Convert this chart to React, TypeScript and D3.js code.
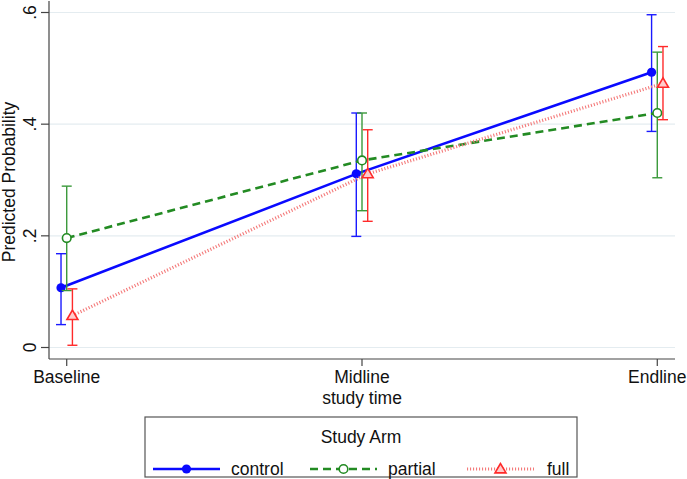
import React from 'react';
import * as d3 from 'd3';

// study time points
const times = ['Baseline', 'Midline', 'Endline'];

// predicted probabilities with 95% CI, per study arm
const controlEst = [0.107, 0.311, 0.493];
const controlLo = [0.041, 0.199, 0.387];
const controlHi = [0.168, 0.42, 0.596];

const partialEst = [0.196, 0.335, 0.42];
const partialLo = [0.102, 0.245, 0.304];
const partialHi = [0.289, 0.42, 0.529];

const fullEst = [0.057, 0.311, 0.473];
const fullLo = [0.004, 0.226, 0.408];
const fullHi = [0.105, 0.39, 0.539];

const yTicks = [0, 0.2, 0.4, 0.6];

const W = 687;
const H = 479;
const font = '"Liberation Sans", Arial, Helvetica, sans-serif';
const fs = 17.5;

const arms = [
  { name: 'control', est: controlEst, lo: controlLo, hi: controlHi, color: '#0a0aff', bar: '#1a1aff', dash: null, width: 2.6, marker: 'dot', dodge: -1 },
  { name: 'partial', est: partialEst, lo: partialLo, hi: partialHi, color: '#238b23', bar: '#3a993a', dash: '8 5', width: 2.6, marker: 'ring', dodge: 0 },
  { name: 'full', est: fullEst, lo: fullLo, hi: fullHi, color: '#f47a7a', bar: '#ff2a2a', dash: '1.1 1.9', width: 3.2, marker: 'tri', dodge: 1 },
];

function Marker({ type, x, y, color }: { type: string; x: number; y: number; color: string }) {
  if (type === 'dot') return <circle cx={x} cy={y} r={4.6} fill={color} />;
  if (type === 'ring') return <circle cx={x} cy={y} r={4.3} fill="white" stroke={color} strokeWidth={1.6} />;
  const s = 5.5;
  const pts = [[x, y - s], [x - s, y + s * 0.7], [x + s, y + s * 0.7]].map(p => p.join(',')).join(' ');
  return <polygon points={pts} fill="#ffcccc" stroke={color} strokeWidth={1.6} />;
}

export default function App() {
  const margin = { left: 49, right: 675, top: 1, bottom: 359 };
  const x = d3.scalePoint<string>().domain(times).range([margin.left, margin.right]).padding(0.06);
  const y = d3.scaleLinear().domain([0, 0.6]).range([347.5, 12.5]);
  const dodgeW = 5.7;

  const line = d3.line<[number, number]>().x(d => d[0]).y(d => d[1]);

  return (
    <svg width={W} height={H} style={{ position: 'absolute', left: 0, top: 0, background: 'white' }} fontFamily={font}>
      {/* gridlines */}
      {yTicks.map(t => (
        <line key={'g' + t} x1={margin.left} x2={margin.right} y1={y(t)} y2={y(t)} stroke="#e4ecf0" strokeWidth={1.2} />
      ))}

      {/* axes */}
      <line x1={margin.left} x2={margin.left} y1={margin.top} y2={margin.bottom} stroke="#444" strokeWidth={1.2} />
      <line x1={margin.left} x2={margin.right} y1={margin.bottom} y2={margin.bottom} stroke="#444" strokeWidth={1.2} />
      {yTicks.map(t => (
        <g key={'yt' + t}>
          <line x1={margin.left - 8} x2={margin.left} y1={y(t)} y2={y(t)} stroke="#444" strokeWidth={1.2} />
          <text transform={`translate(36,${y(t)}) rotate(-90)`} textAnchor="middle" fontSize={fs} fill="#111">
            {t === 0 ? '0' : d3.format('.1f')(t).replace(/^0/, '')}
          </text>
        </g>
      ))}
      {times.map(c => (
        <g key={'xt' + c}>
          <line x1={x(c)} x2={x(c)} y1={margin.bottom} y2={margin.bottom + 7} stroke="#444" strokeWidth={1.2} />
          <text x={x(c)} y={383} textAnchor="middle" fontSize={fs} fill="#111">{c}</text>
        </g>
      ))}
      <text x={(x('Baseline')! + x('Endline')!) / 2} y={404} textAnchor="middle" fontSize={fs} fill="#111">study time</text>
      <text transform={`translate(15,${(y(0) + y(0.6)) / 2 + 2}) rotate(-90)`} textAnchor="middle" fontSize={fs} fill="#111">
        Predicted Probability
      </text>

      {/* error bars + lines + markers */}
      {arms.map(a => {
        const xs = times.map(c => x(c)! + a.dodge * dodgeW);
        const pts = xs.map((xx, i) => [xx, y(a.est[i])] as [number, number]);
        return (
          <g key={a.name}>
            {xs.map((xx, i) => (
              <g key={i} stroke={a.bar} strokeWidth={1.4}>
                <line x1={xx} x2={xx} y1={y(a.lo[i])} y2={y(a.hi[i])} />
                <line x1={xx - 5} x2={xx + 5} y1={y(a.lo[i])} y2={y(a.lo[i])} />
                <line x1={xx - 5} x2={xx + 5} y1={y(a.hi[i])} y2={y(a.hi[i])} />
              </g>
            ))}
            <path d={line(pts)!} fill="none" stroke={a.color} strokeWidth={a.width} strokeDasharray={a.dash ?? undefined} />
            {pts.map((p, i) => (
              <Marker key={'m' + i} type={a.marker} x={p[0]} y={p[1]} color={a.marker === 'tri' ? a.bar : a.color} />
            ))}
          </g>
        );
      })}

      {/* legend */}
      <rect x={145} y={417} width={432} height={60} fill="white" stroke="#555" strokeWidth={1.2} />
      <text x={361} y={443} textAnchor="middle" fontSize={fs} fill="#111">Study Arm</text>
      {arms.map((a, i) => {
        const x0 = 153 + i * 157;
        return (
          <g key={'lg' + a.name}>
            <line x1={x0} x2={x0 + 67} y1={469} y2={469} stroke={a.color} strokeWidth={a.width} strokeDasharray={a.dash ?? undefined} />
            <Marker type={a.marker} x={x0 + 33.5} y={469} color={a.marker === 'tri' ? a.bar : a.color} />
            <text x={x0 + (i === 2 ? 80 : 78)} y={475} fontSize={fs} fill="#111">{a.name}</text>
          </g>
        );
      })}
    </svg>
  );
}
